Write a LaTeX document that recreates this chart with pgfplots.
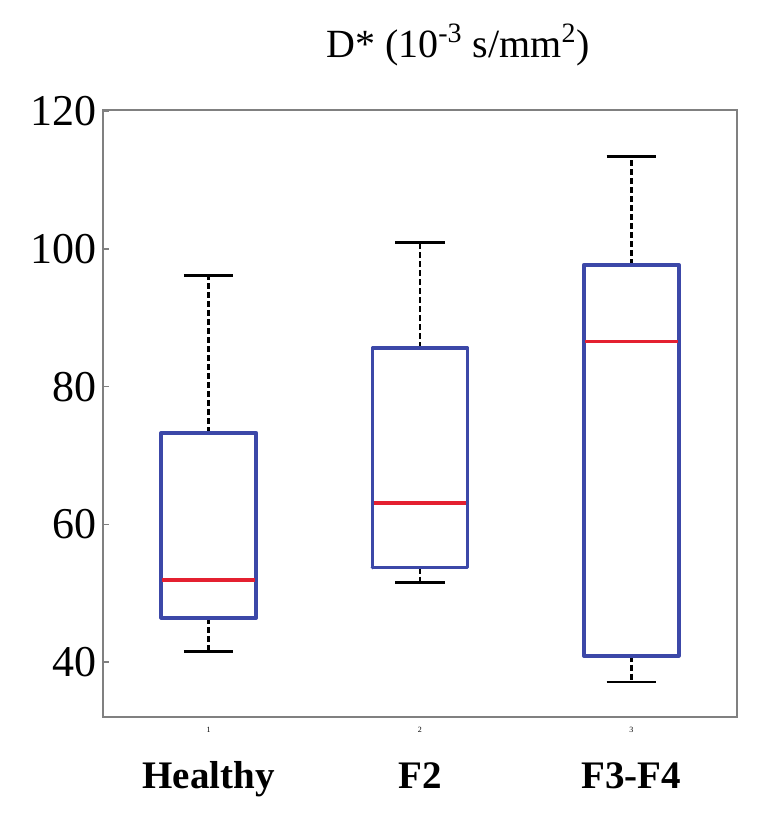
\documentclass[border=0pt]{standalone}
\usepackage{fontspec}
\setmainfont{Liberation Serif}
\usepackage{pgfplots}
\pgfplotsset{compat=1.18}
\definecolor{boxblue}{RGB}{60,72,168}
\definecolor{medred}{RGB}{228,32,48}
\definecolor{axgray}{RGB}{128,128,128}
\begin{document}
\begin{tikzpicture}
\begin{axis}[name=ax, scale only axis, width=317pt, height=303.5pt,
  xmin=0.5, xmax=3.5, ymin=32, ymax=120.2,
  axis line style={axgray, line width=0.8pt},
  ytick={40,60,80,100,120},
  xtick={1,2,3}, xticklabels={1,2,3},
  xticklabel style={font=\fontsize{4}{4}\selectfont, inner sep=0pt, yshift=-5pt},
  yticklabel style={font=\fontsize{22}{22}\selectfont, inner sep=0pt, xshift=-3pt},
  tick pos=left, tick align=inside, major tick length=3pt,
  tick style={axgray, line width=0.6pt},
  x tick style={draw=none},
  /pgf/number format/assume math mode=true,
  clip=false,
  wh/.style={black, line width=1.4pt, dash pattern=on 3pt off 1.5pt},
  cap/.style={black, line width=1.4pt},
  bx/.style={boxblue, line width=1.8pt, line join=round, line cap=round},
  md/.style={medred, line width=1.6pt},
]
% Healthy: lw 41.5, q1 46.4, med 51.9, q3 73.3, uw 96.1
\addplot[wh] coordinates {(1,73.3) (1,96.1)};
\addplot[wh] coordinates {(1,46.4) (1,41.5)};
\addplot[cap] coordinates {(0.8825,96.1) (1.1175,96.1)};
\addplot[cap] coordinates {(0.8825,41.5) (1.1175,41.5)};
\addplot[bx] coordinates {(0.775,46.4) (1.225,46.4) (1.225,73.3) (0.775,73.3) (0.775,46.4)};
\addplot[md] coordinates {(0.78,51.9) (1.22,51.9)};
% F2: lw 51.5, q1 53.7, med 63.1, q3 85.6, uw 101.0
\addplot[wh] coordinates {(2,85.6) (2,101.0)};
\addplot[wh] coordinates {(2,53.7) (2,51.5)};
\addplot[cap] coordinates {(1.8825,101.0) (2.1175,101.0)};
\addplot[cap] coordinates {(1.8825,51.5) (2.1175,51.5)};
\addplot[bx] coordinates {(1.775,53.7) (2.225,53.7) (2.225,85.6) (1.775,85.6) (1.775,53.7)};
\addplot[md] coordinates {(1.78,63.1) (2.22,63.1)};
% F3-F4: lw 37.1, q1 40.9, med 86.6, q3 97.7, uw 113.5
\addplot[wh] coordinates {(3,97.7) (3,113.5)};
\addplot[wh] coordinates {(3,40.9) (3,37.1)};
\addplot[cap] coordinates {(2.8825,113.5) (3.1175,113.5)};
\addplot[cap] coordinates {(2.8825,37.1) (3.1175,37.1)};
\addplot[bx] coordinates {(2.775,40.9) (3.225,40.9) (3.225,97.7) (2.775,97.7) (2.775,40.9)};
\addplot[md] coordinates {(2.78,86.6) (3.22,86.6)};
\node[anchor=base, font=\bfseries\fontsize{19.5}{20}\selectfont] at ([yshift=-35.5pt]axis cs:1,32) {Healthy};
\node[anchor=base, font=\bfseries\fontsize{19.5}{20}\selectfont] at ([yshift=-35.5pt]axis cs:2,32) {F2};
\node[anchor=base, font=\bfseries\fontsize{19.5}{20}\selectfont] at ([yshift=-35.5pt]axis cs:3,32) {F3-F4};
\node[anchor=base, font=\fontsize{20}{20}\selectfont] at ([yshift=26pt]rel axis cs:0.56,1) {D* (10\textsuperscript{-3} s/mm\textsuperscript{2})};
\end{axis}
\pgfresetboundingbox
\path ([xshift=-51.5pt,yshift=-48.5pt]ax.south west) rectangle ([xshift=17.5pt,yshift=55pt]ax.north east);
\end{tikzpicture}
\end{document}
